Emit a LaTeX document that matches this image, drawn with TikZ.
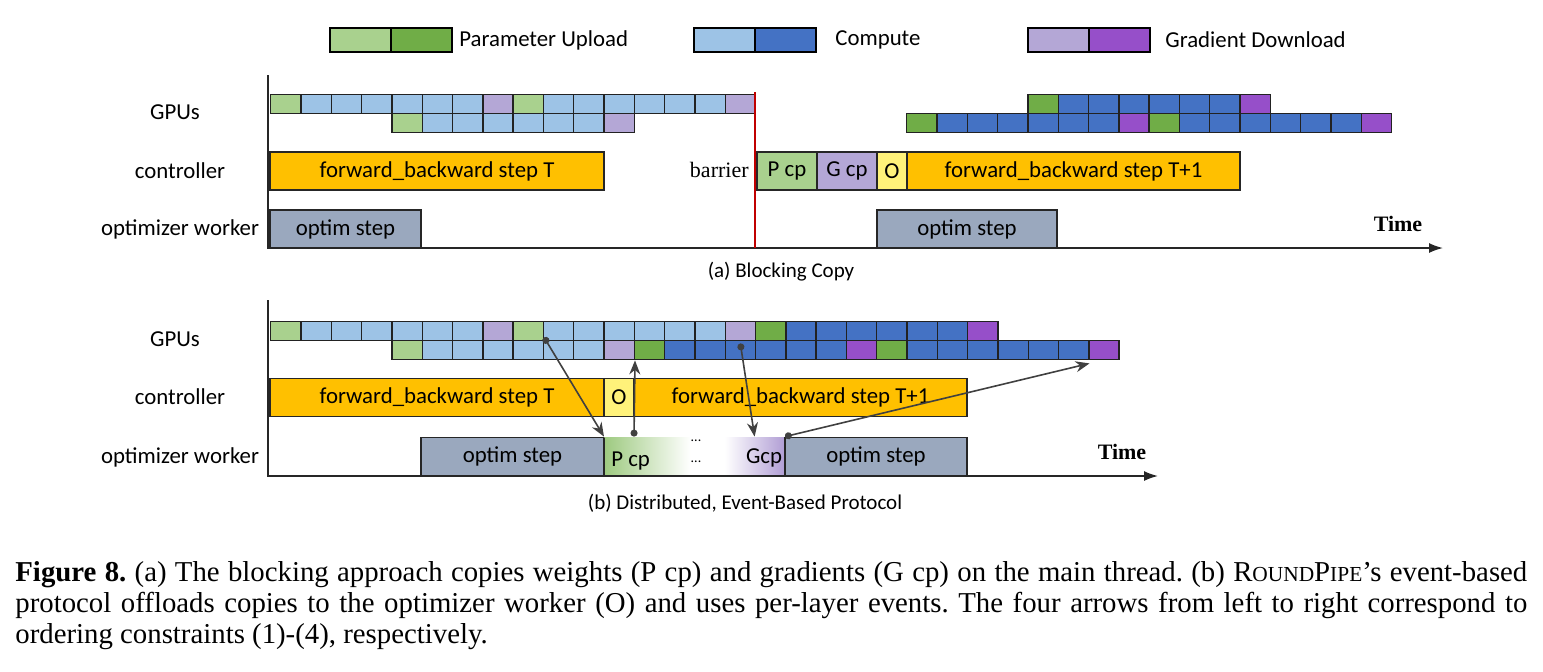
\documentclass[tikz,border=0pt]{standalone}
\usepackage{fontspec}
\setmainfont{Liberation Serif}
\newfontfamily\diagfont{Carlito}
\definecolor{upLight}{HTML}{A9D18E}
\definecolor{upDark}{HTML}{70AD47}
\definecolor{cpLight}{HTML}{9DC3E6}
\definecolor{cpDark}{HTML}{4472C4}
\definecolor{gdLight}{HTML}{B4A7D6}
\definecolor{gdDark}{HTML}{964FC9}
\definecolor{fbOrange}{HTML}{FFC000}
\definecolor{oYellow}{HTML}{FFF27A}
\definecolor{optGray}{HTML}{9AA8BE}
\definecolor{evtGray}{HTML}{404040}
\definecolor{barrierRed}{HTML}{C00000}
\definecolor{cellEdge}{HTML}{222222}
\usetikzlibrary{positioning, arrows.meta}
\newcommand\capsmall[1]{{\fontsize{10.7}{12}\selectfont #1}}
\frenchspacing

\begin{document}
\begin{tikzpicture}[
    x=0.5pt, y=-0.5pt,
    cell/.style={draw=cellEdge, line width=0.7pt, anchor=north west,
                 minimum width=15.15pt, minimum height=9.5pt, inner sep=0pt},
    bar/.style={draw=black!85, line width=0.6pt, anchor=west, minimum height=19pt,
                inner sep=0pt, outer sep=0pt, font=\diagfont\fontsize{11.4}{13}\selectfont},
    rowlabel/.style={font=\diagfont\fontsize{11.4}{13}\selectfont},
    legbox/.style={draw=black, line width=0.7pt, anchor=west, minimum width=30.5pt,
                   minimum height=12pt, inner sep=0pt, outer sep=0pt},
    legtext/.style={anchor=west, inner sep=0pt, font=\diagfont\fontsize{11.4}{13}\selectfont},
    subcap/.style={font=\diagfont\fontsize{10.5}{12}\selectfont},
    timetext/.style={font=\bfseries\fontsize{11}{13}\selectfont},
    axis/.style={line width=0.8pt, draw=black!85},
    evt/.style={{Circle[length=3.5pt]}-{Stealth[length=7pt,width=5.5pt]},
                draw=evtGray, line width=0.8pt},
  ]
  \useasboundingbox (0,0) rectangle (1543,671);

  % legend
  \node[legbox, fill=upLight] (legUpL) at (330,40) {};
  \node[legbox, fill=upDark, right=0pt of legUpL] (legUpD) {};
  \node[legtext] (legUpTxt) at (459,40) {Parameter Upload};
  \node[legbox, fill=cpLight] (legCpL) at (694,40) {};
  \node[legbox, fill=cpDark, right=0pt of legCpL] (legCpD) {};
  \node[legtext] (legCpTxt) at (835,40) {Compute};
  \node[legbox, fill=gdLight] (legGdL) at (1028,40) {};
  \node[legbox, fill=gdDark, right=0pt of legGdL] (legGdD) {};
  \node[legtext] (legGdTxt) at (1165,40) {Gradient Download};

  % (a) blocking copy
  \node[rowlabel] (gpuA) at (175,112) {GPUs};
  \node[rowlabel] (ctrlA) at (180,171) {controller};
  \node[rowlabel] (optA) at (180,229) {optimizer worker};

  \foreach \c [count=\i from 0] in {upLight,cpLight,cpLight,cpLight,cpLight,cpLight,cpLight,gdLight,
                                    upLight,cpLight,cpLight,cpLight,cpLight,cpLight,cpLight,gdLight}
    \node[cell, fill=\c] (ag1-\i) at ({270+30.3*\i},94) {};
  \foreach \c [count=\i from 4] in {upLight,cpLight,cpLight,cpLight,cpLight,cpLight,cpLight,gdLight}
    \node[cell, fill=\c] (ag2-\i) at ({270+30.3*\i},113) {};
  \foreach \c [count=\i from 4] in {upDark,cpDark,cpDark,cpDark,cpDark,cpDark,cpDark,gdDark}
    \node[cell, fill=\c] (ah1-\i) at ({906+30.3*\i},94) {};
  \foreach \c [count=\i from 0] in {upDark,cpDark,cpDark,cpDark,cpDark,cpDark,cpDark,gdDark,
                                    upDark,cpDark,cpDark,cpDark,cpDark,cpDark,cpDark,gdDark}
    \node[cell, fill=\c] (ah2-\i) at ({906+30.3*\i},113) {};

  \node[bar, fill=fbOrange, minimum width=167pt] (fbTA) at (270,171) {forward\_backward step T};
  \node[font=\fontsize{11}{13}\selectfont, anchor=east, inner sep=0pt] (barrierTxt) at (749,170) {barrier};
  \node[bar, fill=upLight, minimum width=30pt] (pcpA) at (757,171) {P cp};
  \node[bar, fill=gdLight, minimum width=30pt, right=0pt of pcpA] (gcpA) {G cp};
  \node[bar, fill=oYellow, minimum width=15pt, right=0pt of gcpA] (oA) {O};
  \node[bar, fill=fbOrange, minimum width=166.5pt, right=0pt of oA] (fbT1A) {forward\_backward step T+1};
  \node[bar, fill=optGray, minimum width=75.5pt] (optStepA) at (270,229) {optim step};
  \node[bar, fill=optGray, minimum width=90pt] (optStepA2) at (877,229) {optim step};

  \coordinate (axATop) at (268,75);
  \coordinate (axAO) at (268,248);
  \coordinate (axAEnd) at (1443,248);
  \draw[axis, -{Latex[length=7pt,width=5pt]}] (axATop) -- (axAO) -- (axAEnd);
  \node[timetext] (timeA) at (1398,224) {Time};
  \coordinate (barTop) at (755,92);
  \coordinate (barBot) at (755,248);
  \draw[barrierRed, line width=1pt] (barTop) -- (barBot);
  \node[subcap] (capA) at (781,272) {(a) Blocking Copy};

  % (b) distributed, event-based
  \node[rowlabel] (gpuB) at (175,339) {GPUs};
  \node[rowlabel] (ctrlB) at (180,397) {controller};
  \node[rowlabel] (optB) at (180,457) {optimizer worker};

  \foreach \c [count=\i from 0] in {upLight,cpLight,cpLight,cpLight,cpLight,cpLight,cpLight,gdLight,
                                    upLight,cpLight,cpLight,cpLight,cpLight,cpLight,cpLight,gdLight,
                                    upDark,cpDark,cpDark,cpDark,cpDark,cpDark,cpDark,gdDark}
    \node[cell, fill=\c] (bg1-\i) at ({270+30.3*\i},321) {};
  \foreach \c [count=\i from 4] in {upLight,cpLight,cpLight,cpLight,cpLight,cpLight,cpLight,gdLight,
                                    upDark,cpDark,cpDark,cpDark,cpDark,cpDark,cpDark,gdDark,
                                    upDark,cpDark,cpDark,cpDark,cpDark,cpDark,cpDark,gdDark}
    \node[cell, fill=\c] (bg2-\i) at ({270+30.3*\i},340) {};

  \node[bar, fill=fbOrange, minimum width=167pt] (fbTB) at (270,397.5) {forward\_backward step T};
  \node[bar, fill=oYellow, minimum width=15pt, right=0pt of fbTB] (oB) {O};
  \node[bar, fill=fbOrange, minimum width=166.5pt, right=0pt of oB] (fbT1B) {forward\_backward step T+1};

  \node[bar, fill=optGray, minimum width=91.5pt] (optStepB) at (421,456.5) {optim step};
  \node[anchor=west, minimum width=43pt, minimum height=19.5pt, inner sep=0pt,
        left color=upLight!80!upDark, right color=white] (pcpB) at (604,456.5) {};
  \node[rowlabel, anchor=west, inner sep=0pt] (pcpTxt) at (611,461) {P cp};
  \node[anchor=east, minimum width=30pt, minimum height=19.5pt, inner sep=0pt,
        left color=white, right color=gdLight!90!gdDark] (gcpB) at (785,456.5) {};
  \node[rowlabel, inner sep=0pt] (gcpTxt) at (764,458) {Gcp};
  \node[font=\diagfont\fontsize{7}{8}\selectfont, inner sep=0pt] (dotsUp) at (696,441) {...};
  \node[font=\diagfont\fontsize{7}{8}\selectfont, inner sep=0pt] (dotsLow) at (696,462) {...};
  \node[bar, fill=optGray, minimum width=91pt] (optStepB2) at (785,456.5) {optim step};
  \draw[black!85, line width=0.6pt] (optStepB.north east) -- (optStepB.south east);

  \coordinate (axBTop) at (268,300);
  \coordinate (axBO) at (268,476);
  \coordinate (axBEnd) at (1158,476);
  \draw[axis, -{Latex[length=7pt,width=5pt]}] (axBTop) -- (axBO) -- (axBEnd);
  \node[timetext] (timeB) at (1122,452) {Time};

  % ordering constraints (1)-(4)
  \draw[evt] ([yshift=2pt]bg1-8.south east) -- (pcpB.north west);
  \draw[evt] ([xshift=15pt]pcpB.north west) -- (bg2-11.south east);
  \draw[evt] ([yshift=-1pt]bg1-15.south) -- (gcpB.north);
  \draw[evt] (gcpB.north east) -- ([yshift=-1.5pt]bg2-26.south east);

  \node[subcap] (capB) at (745,503) {(b) Distributed, Event-Based Protocol};

  % figure caption
  \node[anchor=north west, text width=756pt, align=justify, inner sep=0pt,
        font=\fontsize{14.4}{15.5}\selectfont] (figCap) at (15,561)
    {\textbf{Figure 8.} (a) The blocking approach copies weights (P cp) and gradients (G cp) on the main thread. (b) R\capsmall{OUND}P\capsmall{IPE}'s event-based\linebreak
     protocol offloads copies to the optimizer worker (O) and uses per-layer events. The four arrows from left to right correspond to\linebreak
     ordering constraints (1)-(4), respectively.};
\end{tikzpicture}
\end{document}
